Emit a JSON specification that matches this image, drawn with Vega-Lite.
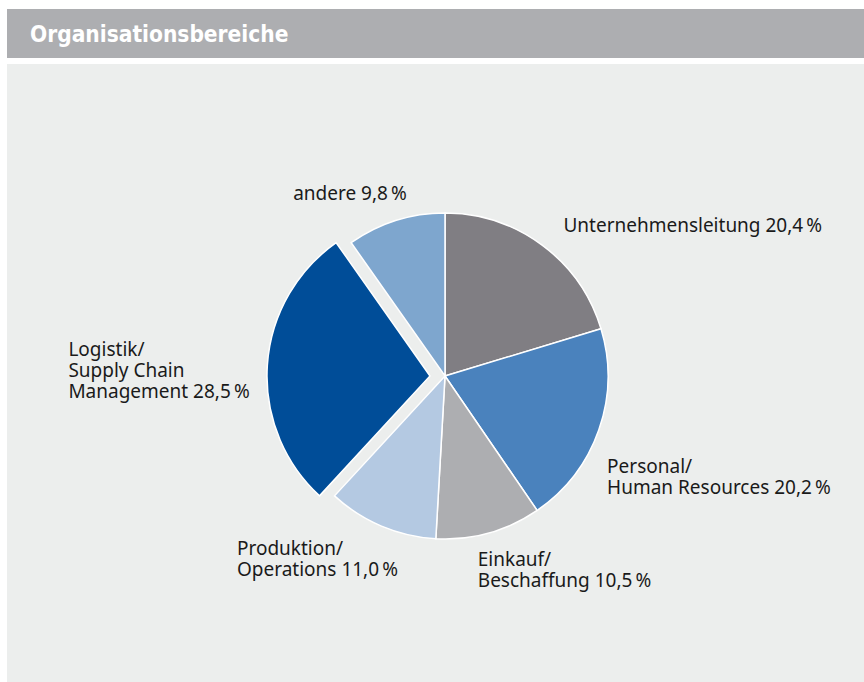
{
  "$schema": "https://vega.github.io/schema/vega-lite/v6.json",
  "padding": {"left": 7, "top": 9, "right": 0, "bottom": 0},
  "background": "white",
  "spacing": 6,
  "config": {"view": {"stroke": null}},
  "vconcat": [
    {
      "width": 857,
      "height": 49,
      "view": {"fill": "#adaeb1", "stroke": null},
      "data": {"values": [{"t": "Organisationsbereiche"}]},
      "mark": {"type": "text", "align": "left", "baseline": "middle", "dx": -405.5, "dy": 1, "font": "DejaVu Sans Condensed", "fontWeight": "bold", "fontSize": 22.5, "color": "white"},
      "encoding": {"text": {"field": "t", "type": "nominal"}}
    },
    {
      "width": 857,
      "height": 618,
      "view": {"fill": "#eceeed", "stroke": null},
      "data": {"values": [
        {"k": "Unternehmensleitung", "value": 20.4, "order": 1, "label": "Unternehmensleitung 20,4\u202f%"},
        {"k": "Personal", "value": 20.2, "order": 2, "label": "Personal/\nHuman Resources 20,2\u202f%"},
        {"k": "Einkauf", "value": 10.5, "order": 3, "label": "Einkauf/\nBeschaffung 10,5\u202f%"},
        {"k": "Produktion", "value": 11.0, "order": 4, "label": "Produktion/\nOperations 11,0\u202f%"},
        {"k": "Logistik", "value": 28.5, "order": 5, "label": "Logistik/\nSupply Chain\nManagement 28,5\u202f%"},
        {"k": "andere", "value": 9.8, "order": 6, "label": "andere 9,8\u202f%"}
      ]},
      "encoding": {
        "theta": {"field": "value", "type": "quantitative", "stack": true, "scale": {"nice": false}},
        "order": {"field": "order", "type": "quantitative"},
        "detail": {"field": "k", "type": "nominal"}
      },
      "layer": [
        {
          "mark": {"type": "arc", "outerRadius": 163, "stroke": "white", "strokeWidth": 1.5, "xOffset": 9.5, "yOffset": 3},
          "encoding": {
            "color": {"field": "k", "type": "nominal", "legend": null, "scale": {"domain": ["Unternehmensleitung", "Personal", "Einkauf", "Produktion", "Logistik", "andere"], "range": ["#807e83", "#4a82bd", "#adaeb1", "#b4c9e2", "#004d98", "#7ea6ce"]}},
            "opacity": {"condition": {"test": "datum.k === 'Logistik'", "value": 0}, "value": 1}
          }
        },
        {
          "mark": {"type": "arc", "outerRadius": 163, "stroke": "white", "strokeWidth": 1.5, "xOffset": -5.5, "yOffset": 3},
          "encoding": {
            "color": {"field": "k", "type": "nominal", "legend": null},
            "opacity": {"condition": {"test": "datum.k === 'Logistik'", "value": 1}, "value": 0}
          }
        },
        {
          "mark": {"type": "text", "radius": 187, "align": "left", "baseline": "middle", "dx": 7, "dy": 0, "lineBreak": "\n", "lineHeight": 21, "font": "Noto Sans", "fontSize": 19, "color": "#1a1a1a", "xOffset": 9.5, "yOffset": 3},
          "encoding": {"text": {"condition": {"test": "datum.k === 'Unternehmensleitung'", "field": "label", "type": "nominal"}, "value": ""}}
        },
        {
          "mark": {"type": "text", "radius": 175, "align": "left", "baseline": "middle", "dx": -3, "dy": 32.5, "lineBreak": "\n", "lineHeight": 21, "font": "Noto Sans", "fontSize": 19, "color": "#1a1a1a", "xOffset": 9.5, "yOffset": 3},
          "encoding": {"text": {"condition": {"test": "datum.k === 'Personal'", "field": "label", "type": "nominal"}, "value": ""}}
        },
        {
          "mark": {"type": "text", "radius": 200, "align": "left", "baseline": "middle", "dx": -21, "dy": -8.5, "lineBreak": "\n", "lineHeight": 21, "font": "Noto Sans", "fontSize": 19, "color": "#1a1a1a", "xOffset": 9.5, "yOffset": 3},
          "encoding": {"text": {"condition": {"test": "datum.k === 'Einkauf'", "field": "label", "type": "nominal"}, "value": ""}}
        },
        {
          "mark": {"type": "text", "radius": 195, "align": "left", "baseline": "middle", "dx": -132, "dy": -7, "lineBreak": "\n", "lineHeight": 21, "font": "Noto Sans", "fontSize": 19, "color": "#1a1a1a", "xOffset": 9.5, "yOffset": 3},
          "encoding": {"text": {"condition": {"test": "datum.k === 'Produktion'", "field": "label", "type": "nominal"}, "value": ""}}
        },
        {
          "mark": {"type": "text", "radius": 180, "align": "left", "baseline": "middle", "dx": -197, "dy": -14, "lineBreak": "\n", "lineHeight": 21, "font": "Noto Sans", "fontSize": 19, "color": "#1a1a1a", "xOffset": 9.5, "yOffset": 3},
          "encoding": {"text": {"condition": {"test": "datum.k === 'Logistik'", "field": "label", "type": "nominal"}, "value": ""}}
        },
        {
          "mark": {"type": "text", "radius": 190, "align": "left", "baseline": "middle", "dx": -94.5, "dy": -1, "lineBreak": "\n", "lineHeight": 21, "font": "Noto Sans", "fontSize": 19, "color": "#1a1a1a", "xOffset": 9.5, "yOffset": 3},
          "encoding": {"text": {"condition": {"test": "datum.k === 'andere'", "field": "label", "type": "nominal"}, "value": ""}}
        }
      ]
    }
  ]
}
